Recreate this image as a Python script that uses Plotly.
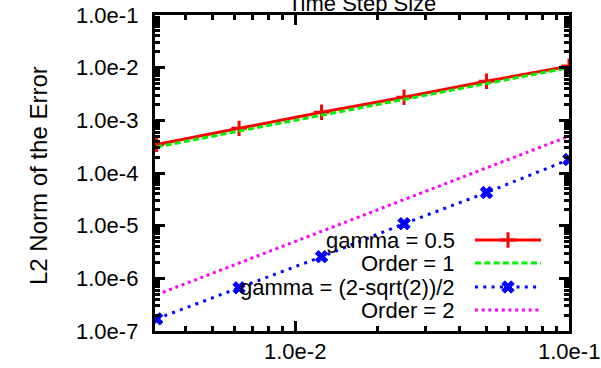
import math
import plotly.graph_objects as go

# ---- data ----
step = [0.003125, 0.00625, 0.0125, 0.025, 0.05, 0.1]
gamma_half = [3.49e-4, 7.05e-4, 1.42e-3, 2.74e-3, 5.53e-3, 1.07e-2]
order1 = [3.125e-4, 6.25e-4, 1.25e-3, 2.5e-3, 5.0e-3, 1.0e-2]
gamma_sqrt = [1.7e-7, 6.6e-7, 2.57e-6, 1.09e-5, 4.25e-5, 1.8e-4]
order2 = [4.883e-7, 1.953e-6, 7.8125e-6, 3.125e-5, 1.25e-4, 5.0e-4]

names = ["gamma = 0.5", "Order = 1", "gamma = (2-sqrt(2))/2", "Order = 2"]
series = [gamma_half, order1, gamma_sqrt, order2]

y_tickvals = [1e-7, 1e-6, 1e-5, 1e-4, 1e-3, 1e-2, 1e-1]
y_ticktext = ["1.0e-7", "1.0e-6", "1.0e-5", "1.0e-4", "1.0e-3", "1.0e-2", "1.0e-1"]
x_tickvals = [1e-2, 1e-1]
x_ticktext = ["1.0e-2", "1.0e-1"]

# ---- styles ----
FONT = "Liberation Sans, Arial, sans-serif"
styles = [
    dict(line=dict(color="#ff0000", width=3, dash="solid"), mode="lines+markers",
         marker=dict(symbol="cross-thin", size=11, line=dict(color="#ff0000", width=3), color="#ff0000")),
    dict(line=dict(color="#00ee00", width=3, dash="6px,3.3px"), mode="lines", marker=None),
    dict(line=dict(color="#0000ff", width=3, dash="3px,5.3px"), mode="lines+markers",
         marker=dict(symbol="x", size=11, color="#0000ff", line=dict(color="#0000ff", width=1))),
    dict(line=dict(color="#ff00ff", width=3, dash="3px,3.7px"), mode="lines", marker=None),
]

W, H = 601, 368
L, R, T, B = 155, 32, 15, 37
PW, PH = W - L - R, H - T - B
XR = [-2.511, -1]
YR = [-7, -1]


def px_to_x(px):
    return 10 ** (XR[0] + (px - L) / PW * (XR[1] - XR[0]))


def px_to_y(py):
    return 10 ** (YR[1] - (py - T) / PH * (YR[1] - YR[0]))


fig = go.Figure()
for s, st in zip(series, styles):
    kw = dict(x=step, y=s, mode=st["mode"], line=st["line"], showlegend=False,
              hoverinfo="skip")
    if st["marker"] is not None:
        kw["marker"] = st["marker"]
    fig.add_trace(go.Scatter(**kw))

# ---- custom legend (text left, sample right), placed in page pixels ----
leg_text_right = 457
leg_x0, leg_x1 = 475, 541
leg_rows = [240, 263, 287, 310]
for name, st, ry in zip(names, styles, leg_rows):
    yy = px_to_y(ry)
    fig.add_trace(go.Scatter(x=[px_to_x(leg_x0), px_to_x(leg_x1)], y=[yy, yy], mode="lines",
                             line=st["line"], showlegend=False, hoverinfo="skip"))
    if st["marker"] is not None:
        fig.add_trace(go.Scatter(x=[px_to_x((leg_x0 + leg_x1) / 2)], y=[yy], mode="markers",
                                 marker=st["marker"], showlegend=False, hoverinfo="skip"))
    fig.add_annotation(x=(leg_text_right - L) / PW, y=1 - (ry - T) / PH,
                       xref="paper", yref="paper", text=name,
                       showarrow=False, xanchor="right", yanchor="middle",
                       font=dict(family=FONT, size=22, color="black"))

# ---- tick labels (plain hyphen, as in the original) ----
for v, t in zip(y_tickvals, y_ticktext):
    fig.add_annotation(x=0, y=math.log10(v), xref="paper", yref="y", text=t,
                       showarrow=False, xanchor="right", yanchor="middle", xshift=-15,
                       font=dict(family=FONT, size=22, color="black"))
for v, t in zip(x_tickvals, x_ticktext):
    fig.add_annotation(x=math.log10(v), y=0, xref="x", yref="paper", text=t,
                       showarrow=False, xanchor="center", yanchor="top", yshift=-6,
                       font=dict(family=FONT, size=22, color="black"))

# ---- titles ----
fig.add_annotation(x=0.5, y=1, xref="paper", yref="paper", text="Time Step Size",
                   showarrow=False, xanchor="center", yanchor="bottom", yshift=-3,
                   font=dict(family=FONT, size=22, color="black"))
fig.add_annotation(x=(38 - L) / PW, y=1 - (176 - T) / PH, xref="paper", yref="paper",
                   text="L2 Norm of the Error", textangle=-90, showarrow=False,
                   xanchor="center", yanchor="middle",
                   font=dict(family=FONT, size=24, color="black"))

axis_common = dict(type="log", dtick=1, showticklabels=False, layer="above traces",
                   showline=True, linecolor="black", linewidth=3, mirror="allticks",
                   ticks="inside", ticklen=10, tickwidth=3, tickcolor="black",
                   showgrid=False, zeroline=False,
                   minor=dict(ticks="inside", ticklen=5, tickwidth=3, tickcolor="black",
                              dtick="D1", showgrid=False))

fig.update_layout(
    width=W, height=H,
    margin=dict(l=L, r=R, t=T, b=B),
    paper_bgcolor="white", plot_bgcolor="white",
    font=dict(family=FONT, size=22, color="black"),
    xaxis=dict(range=XR, automargin=False, **axis_common),
    yaxis=dict(range=YR, automargin=False, **axis_common),
)

fig.write_html("out.html")
